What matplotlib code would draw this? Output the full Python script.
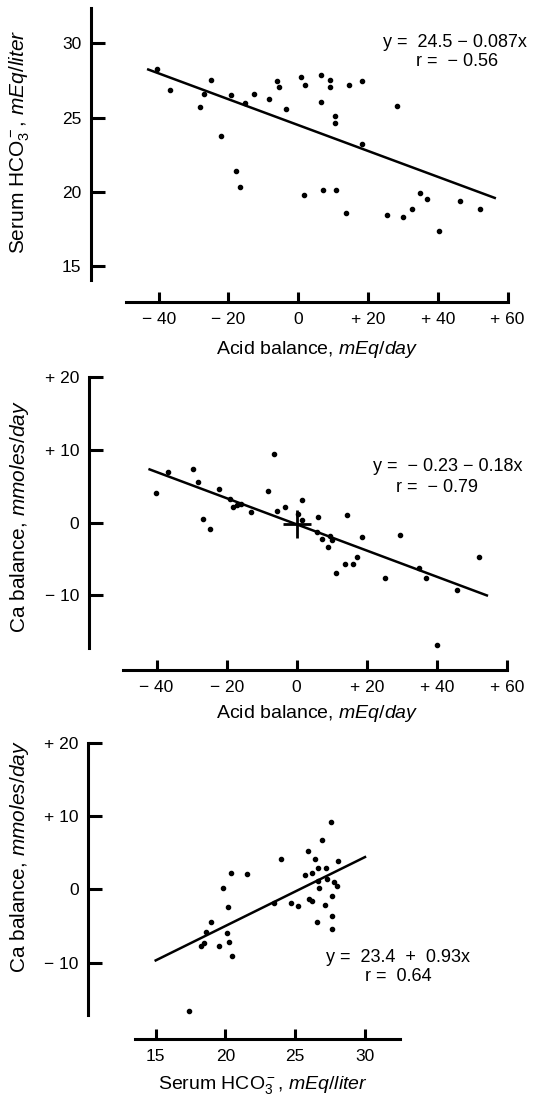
import numpy as np
import matplotlib.pyplot as plt

plt.rcParams['font.family'] = ['Liberation Sans', 'DejaVu Sans']
plt.rcParams['mathtext.fontset'] = 'custom'
plt.rcParams['mathtext.rm'] = 'Liberation Sans'
plt.rcParams['mathtext.it'] = 'Liberation Sans:italic'
plt.rcParams['mathtext.bf'] = 'Liberation Sans:bold'

# Panel 1: acid balance vs serum HCO3
ACID1 = [-40.4, -36.9, -28.2, -26.9, -25.0, -22.2, -19.3, -17.9, -16.6, -15.3,
         -12.6, -8.3, -6.2, -5.4, -3.6, 0.8, 1.6, 1.9, 6.4, 6.4,
         7.0, 9.1, 9.1, 10.5, 10.5, 10.8, 13.7, 14.6, 18.4, 18.4,
         25.3, 28.4, 30.1, 32.6, 35.0, 36.8, 40.2, 46.3, 52.0]
HCO3_1 = [28.25, 26.87, 25.72, 26.57, 27.54, 23.80, 26.55, 21.38, 20.31, 25.97,
          26.57, 26.28, 27.47, 27.09, 25.57, 27.72, 19.79, 27.20, 27.85, 26.08,
          20.16, 27.54, 27.09, 25.12, 24.65, 20.16, 18.58, 27.20, 27.45, 23.24,
          18.47, 25.77, 18.29, 18.85, 19.93, 19.52, 17.40, 19.37, 18.85]
FIT1 = (24.5, -0.087)
FIT1_RANGE = (-43, 56.3)

# Panel 2: acid balance vs Ca balance
ACID2 = [-40.3, -36.7, -29.5, -28.1, -26.7, -24.7, -22.3, -19.0, -18.1, -17.1,
         -16.0, -13.1, -8.1, -6.5, -5.5, -3.3, 0.5, 1.6, 1.6, 5.7,
         6.2, 7.1, 8.8, 9.5, 10.0, 11.1, 13.8, 14.5, 16.0, 17.3,
         18.6, 25.1, 29.4, 34.8, 37.0, 40.0, 45.9, 52.0]
CA2 = [4.13, 6.97, 7.43, 5.55, 0.46, -0.92, 4.59, 3.21, 2.20, 2.43,
       2.57, 1.47, 4.40, 9.40, 1.61, 2.16, 1.19, 3.07, 0.37, -1.28,
       0.78, -2.25, -3.30, -1.83, -2.39, -6.93, -5.69, 1.06, -5.69, -4.72,
       -1.93, -7.57, -1.65, -6.28, -7.66, -16.88, -9.31, -4.68]
FIT2 = (-0.23, -0.18)
FIT2_RANGE = (-42, 54.3)
MEAN2 = (0.1, -0.2)

# Panel 3: serum HCO3 vs Ca balance
HCO3_3 = [17.41, 18.25, 18.49, 18.61, 18.99, 19.56, 19.80, 20.09, 20.21, 20.25,
          20.37, 20.45, 21.52, 23.48, 23.96, 24.67, 25.22, 25.68, 25.94, 25.99,
          26.18, 26.23, 26.42, 26.58, 26.66, 26.66, 26.73, 26.92, 27.13, 27.20,
          27.30, 27.59, 27.61, 27.61, 27.66, 27.80, 27.97, 28.09]
CA3 = [-16.58, -7.73, -7.28, -5.80, -4.49, -7.73, 0.18, -6.02, -2.43, -7.15,
       2.16, -9.08, 2.07, -1.80, 4.13, -1.89, -2.34, 1.98, 5.26, -1.35,
       2.25, -1.66, 4.13, -4.49, 2.97, 1.08, 0.22, 6.79, -2.11, 2.97,
       1.35, 9.12, -0.90, -3.60, -5.48, 0.94, 0.45, 3.87]
LINE3_X = [15, 30]
LINE3_Y = [-9.7, 4.4]

ACID_TICKS = [-40, -20, 0, 20, 40, 60]
ACID_LABELS = ['\u2212 40', '\u2212 20', '0', '+ 20', '+ 40', '+ 60']
HCO3_TICKS = [15, 20, 25, 30]
HCO3_LABELS = ['15', '20', '25', '30']
CA_TICKS = [-10, 0, 10, 20]
CA_LABELS = ['\u2212 10', '0', '+ 10', '+ 20']

W, H = 555, 1096
FS_TICK = 12.5
FS_LAB = 14
FS_YLAB = 15
FS_EQ = 13
LW = 2.2


def make_axes(fig, box, xlim, ylim, xbounds, ybounds, xticks, xlabels, yticks, ylabels):
    l, t, r, b = box
    ax = fig.add_axes([l / W, 1 - b / H, (r - l) / W, (b - t) / H])
    ax.set_xlim(*xlim)
    ax.set_ylim(*ylim)
    for s in ['top', 'right']:
        ax.spines[s].set_visible(False)
    ax.spines['left'].set_bounds(*ybounds)
    ax.spines['bottom'].set_bounds(*xbounds)
    ax.spines['left'].set_linewidth(LW)
    ax.spines['bottom'].set_linewidth(LW)
    ax.set_xticks(xticks, xlabels)
    ax.set_yticks(yticks, ylabels)
    ax.tick_params(axis='x', direction='in', length=7.5, width=LW, pad=7, labelsize=FS_TICK)
    ax.tick_params(axis='y', direction='in', length=10, width=LW, pad=7, labelsize=FS_TICK)
    ax.patch.set_visible(False)
    return ax


fig = plt.figure(figsize=(W / 100, H / 100), dpi=100)

# ---- panel 1
ax1 = make_axes(fig, (91, 5, 545, 302), (-59.4, 70.7), (12.6, 32.58),
                (-49.5, 60), (14.1, 32.4), ACID_TICKS, ACID_LABELS, HCO3_TICKS, HCO3_LABELS)
ax1.scatter(ACID1, HCO3_1, s=9, color='black', zorder=3)
xs = np.array(FIT1_RANGE)
ax1.plot(xs, FIT1[0] + FIT1[1] * xs, color='black', lw=1.8)
ax1.text(65.5, 30.09, 'y =  24.5 \u2212 0.087x', ha='right', va='center', fontsize=FS_EQ)
ax1.text(57.2, 28.81, 'r =  \u2212 0.56', ha='right', va='center', fontsize=FS_EQ)
fig.text(317.5 / W, 1 - 350 / H, r'Acid balance, $\mathit{mEq/day}$', ha='center', va='center',
         fontsize=FS_LAB)
fig.text(20 / W, 1 - 142 / H, r'Serum HCO$_3^-$, $\mathit{mEq/liter}$', ha='center', va='center',
         rotation=90, fontsize=FS_YLAB)

# ---- panel 2
ax2 = make_axes(fig, (89, 370, 545, 670), (-59.3, 70.9), (-20.26, 21.0),
                (-49.5, 60), (-17.2, 20), ACID_TICKS, ACID_LABELS, CA_TICKS, CA_LABELS)
ax2.scatter(ACID2, CA2, s=9, color='black', zorder=3)
xs = np.array(FIT2_RANGE)
ax2.plot(xs, FIT2[0] + FIT2[1] * xs, color='black', lw=1.8)
ax2.plot(*MEAN2, marker='+', markersize=20, mew=2, color='black')
ax2.text(64.4, 7.7, 'y =  \u2212 0.23 \u2212 0.18x', ha='right', va='center', fontsize=FS_EQ)
ax2.text(51.8, 4.9, 'r =  \u2212 0.79', ha='right', va='center', fontsize=FS_EQ)
fig.text(317.5 / W, 1 - 714 / H, r'Acid balance, $\mathit{mEq/day}$', ha='center', va='center',
         fontsize=FS_LAB)
fig.text(20 / W, 1 - 516.7 / H, r'Ca balance, $\mathit{mmoles/day}$', ha='center', va='center',
         rotation=90, fontsize=FS_YLAB)

# ---- panel 3
ax3 = make_axes(fig, (88.3, 738, 545, 1039.3), (10.17, 42.9), (-20.46, 20.64),
                (13.5, 32.5), (-17.1, 20), HCO3_TICKS, HCO3_LABELS, CA_TICKS, CA_LABELS)
ax3.scatter(HCO3_3, CA3, s=9, color='black', zorder=3)
ax3.plot(LINE3_X, LINE3_Y, color='black', lw=1.8)
ax3.text(27.2, -9.24, 'y =  23.4  +  0.93x', ha='left', va='center', fontsize=FS_EQ)
ax3.text(30.0, -11.9, 'r =  0.64', ha='left', va='center', fontsize=FS_EQ)
fig.text(262.5 / W, 1 - 1085 / H, r'Serum HCO$_3^-$, $\mathit{mEq/liter}$', ha='center', va='center',
         fontsize=FS_LAB)
fig.text(20 / W, 1 - 856.7 / H, r'Ca balance, $\mathit{mmoles/day}$', ha='center', va='center',
         rotation=90, fontsize=FS_YLAB)

fig.savefig('out.png', dpi=100)
